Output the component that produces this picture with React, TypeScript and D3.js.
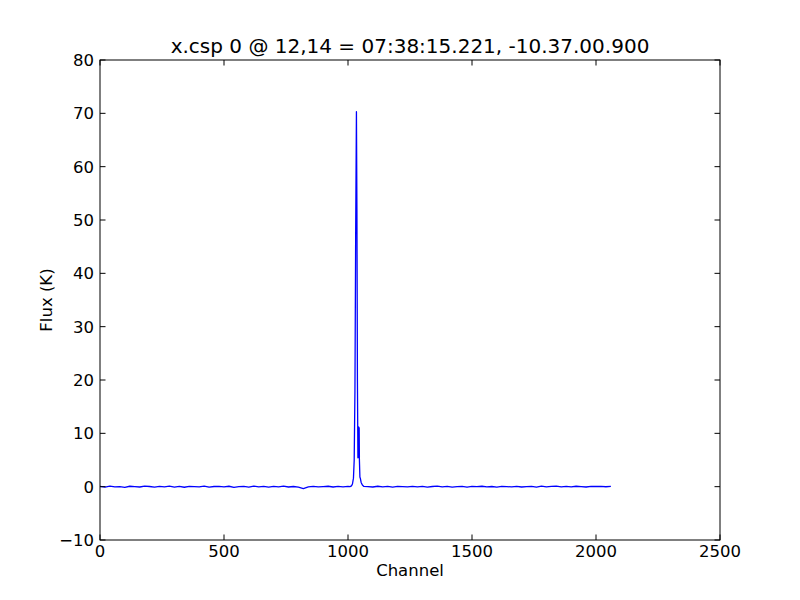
import React from "react";
import * as d3 from "d3";

const titleText = "x.csp 0 @ 12,14 = 07:38:15.221, -10.37.00.900";
const xLabel = "Channel";
const yLabel = "Flux (K)";
const xTicks = [0, 500, 1000, 1500, 2000, 2500];
const yTicks = [-10, 0, 10, 20, 30, 40, 50, 60, 70, 80];

// baseline left of line (channel 0..1000 step 20)
const leftFlux = [0.05, -0.08, 0.1, -0.05, 0.02, -0.12, 0.08, 0.0, -0.06, 0.12, 0.03, -0.1, 0.06, -0.02, 0.09, -0.07, 0.04, -0.11, 0.07, 0.01, -0.05, 0.1, -0.09, 0.03, 0.06, -0.04, 0.08, -0.12, 0.02, 0.05, -0.07, 0.1, -0.03, 0.04, -0.08, 0.06, -0.02, 0.09, -0.06, 0.03, -0.1, -0.35, -0.05, 0.07, -0.04, 0.02, 0.08, -0.06, 0.04, -0.03, 0.05];
// line region
const peakChannels = [1008, 1014, 1018, 1022, 1025, 1028, 1031, 1034, 1036, 1038, 1040, 1042, 1043, 1045, 1046, 1048, 1050, 1053, 1058, 1064];
const peakFlux = [0.02, 0.15, 0.5, 1.6, 5, 18, 48, 70.3, 52, 20, 5.4, 5.5, 11.2, 11, 5, 1.8, 1.5, 0.8, 0.3, 0.05];
// baseline right of line (channel 1080..2060 step 20)
const rightFlux = [0.02, -0.06, 0.08, -0.03, 0.05, -0.09, 0.04, 0.0, -0.05, 0.07, -0.02, 0.06, -0.08, 0.03, 0.09, -0.04, 0.05, -0.1, 0.02, 0.06, -0.07, 0.04, -0.01, 0.08, -0.05, 0.03, -0.09, 0.06, 0.0, -0.04, 0.07, -0.06, 0.02, 0.05, -0.08, 0.09, -0.03, 0.04, 0.1, -0.02, 0.06, -0.05, 0.08, 0.01, -0.06, 0.07, 0.03, 0.05, -0.02, 0.04];

const W = 800, H = 600;
const m = { left: 100, right: 80, top: 60, bottom: 60 };
const font = "DejaVu Sans";

export default function App() {
  const x = d3.scaleLinear().domain([0, 2500]).range([m.left, W - m.right]);
  const y = d3.scaleLinear().domain([-10, 80]).range([H - m.bottom, m.top]);
  const pts: [number, number][] = [];
  leftFlux.forEach((v, i) => pts.push([i * 20, v]));
  peakChannels.forEach((c, i) => pts.push([c, peakFlux[i]]));
  rightFlux.forEach((v, i) => pts.push([1080 + i * 20, v]));
  const line = d3.line<[number, number]>().x(d => x(d[0])).y(d => y(d[1]));
  const x0 = m.left, x1 = W - m.right, y0 = m.top, y1 = H - m.bottom;
  const tl = 5.5;
  return (
    <svg width={W} height={H} style={{ position: "absolute", left: 0, top: 0, background: "#fff" }}>
      <rect x={0} y={0} width={W} height={H} fill="#fff" />
      <defs>
        <clipPath id="clip"><rect x={x0} y={y0} width={x1 - x0} height={y1 - y0} /></clipPath>
      </defs>
      <path d={line(pts) || ""} fill="none" stroke="#0000ff" strokeWidth={1.3} clipPath="url(#clip)" strokeLinejoin="round" />
      <rect x={x0} y={y0} width={x1 - x0} height={y1 - y0} fill="none" stroke="#000" strokeWidth={1} />
      {xTicks.map(t => (
        <g key={"x" + t}>
          <line x1={x(t)} x2={x(t)} y1={y1} y2={y1 - tl} stroke="#000" />
          <line x1={x(t)} x2={x(t)} y1={y0} y2={y0 + tl} stroke="#000" />
          <text x={x(t)} y={y1 + 17} textAnchor="middle" fontFamily={font} fontSize={16.5}>{t}</text>
        </g>
      ))}
      {yTicks.map(t => (
        <g key={"y" + t}>
          <line x1={x0} x2={x0 + tl} y1={y(t)} y2={y(t)} stroke="#000" />
          <line x1={x1} x2={x1 - tl} y1={y(t)} y2={y(t)} stroke="#000" />
          <text x={x0 - 6} y={y(t)} dy="0.36em" textAnchor="end" fontFamily={font} fontSize={16.5}>{t < 0 ? "\u2212" + Math.abs(t) : t}</text>
        </g>
      ))}
      <text x={(x0 + x1) / 2} y={576} textAnchor="middle" fontFamily={font} fontSize={16.5}>{xLabel}</text>
      <text transform={`translate(52,${(y0 + y1) / 2}) rotate(-90)`} textAnchor="middle" fontFamily={font} fontSize={16.5}>{yLabel}</text>
      <text x={(x0 + x1) / 2} y={53} textAnchor="middle" fontFamily={font} fontSize={20}>{titleText}</text>
    </svg>
  );
}
